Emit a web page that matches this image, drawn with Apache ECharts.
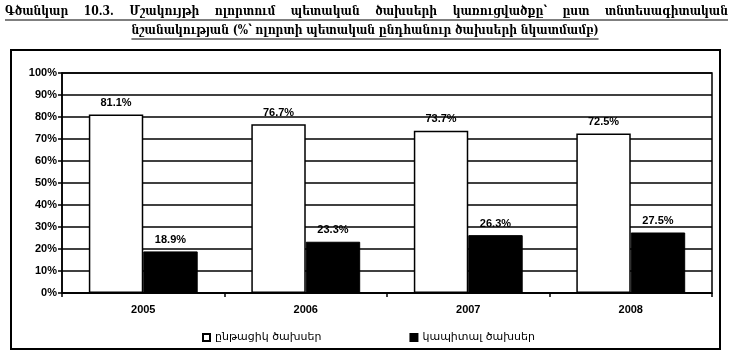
<!DOCTYPE html>
<html>
<head>
<meta charset="utf-8">
<script src="https://cdn.jsdelivr.net/npm/echarts@6/dist/echarts.min.js"></script>
<style>
html,body{margin:0;padding:0;background:#fff;}
#c{width:733px;height:361px;}
</style>
</head>
<body>
<div id="c"></div>
<script>
const categories = ['2005', '2006', '2007', '2008'];
const currentExp = [81.1, 76.7, 73.7, 72.5];
const capitalExp = [18.9, 23.3, 26.3, 27.5];
const seriesNames = ['ընթացիկ ծախսեր', 'կապիտալ ծախսեր'];
const titleLine1 = ['Գծանկար', '10.3.', 'Մշակույթի', 'ոլորտում', 'պետական', 'ծախսերի', 'կառուցվածքը՝', 'ըստ', 'տնտեսագիտական'];
const titleLine2 = 'նշանակության (%՝ ոլորտի պետական ընդհանուր ծախսերի նկատմամբ)';

const chart = echarts.init(document.getElementById('c'), null, {renderer: 'canvas'});

const titleFont = 'bold 12px "DejaVu Serif Condensed", "DejaVu Serif"';
const mctx = document.createElement('canvas').getContext('2d');
mctx.font = titleFont;
const graphics = [];
// line 1 justified between 5 and 728
const L = 5, R = 728;
const widths = titleLine1.map(w => mctx.measureText(w).width);
const total = widths.reduce((a, b) => a + b, 0);
const gap = (R - L - total) / (titleLine1.length - 1);
let x = L;
titleLine1.forEach((w, i) => {
  graphics.push({type: 'text', left: x, top: 6, style: {text: w, font: titleFont, fill: '#000'}});
  x += widths[i] + gap;
});
graphics.push({type: 'line', shape: {x1: L, y1: 20, x2: R, y2: 20}, style: {stroke: '#000', lineWidth: 1.2}});
const w2 = mctx.measureText(titleLine2).width;
const x2 = 365 - w2 / 2;
graphics.push({type: 'text', left: x2, top: 25, style: {text: titleLine2, font: titleFont, fill: '#000'}});
graphics.push({type: 'line', shape: {x1: x2, y1: 39, x2: x2 + w2, y2: 39}, style: {stroke: '#000', lineWidth: 1.2}});
// outer frame
graphics.push({type: 'rect', shape: {x: 11, y: 50, width: 709, height: 299}, style: {fill: 'none', stroke: '#000', lineWidth: 2}});

const labelStyle = {
  show: true, position: 'top', distance: 6,
  formatter: p => p.value.toFixed(1) + '%',
  fontFamily: 'Liberation Sans', fontWeight: 'bold', fontSize: 11, color: '#000'
};

chart.setOption({
  animation: false,
  backgroundColor: '#fff',
  graphic: graphics,
  grid: {left: 62, right: 21, top: 73, bottom: 68, show: true, borderColor: '#000', borderWidth: 1.5, backgroundColor: 'transparent'},
  legend: {
    left: 197, top: 327, itemWidth: 7, itemHeight: 7, itemGap: 88, icon: 'rect',
    textStyle: {fontFamily: 'DejaVu Sans', fontSize: 11, color: '#000'},
    data: seriesNames
  },
  xAxis: {
    type: 'category', data: categories,
    axisLine: {lineStyle: {color: '#000', width: 1.5}},
    axisTick: {show: true, length: 4, lineStyle: {color: '#000', width: 1.5}},
    axisLabel: {margin: 11, fontFamily: 'Liberation Sans', fontWeight: 'bold', fontSize: 11, color: '#000'}
  },
  yAxis: {
    type: 'value', min: 0, max: 100, interval: 10,
    axisLine: {show: true, lineStyle: {color: '#000', width: 1.5}},
    axisTick: {show: true, length: 4, lineStyle: {color: '#000', width: 1.5}},
    axisLabel: {formatter: '{value}%', margin: 5, fontFamily: 'Liberation Sans', fontWeight: 'bold', fontSize: 11, color: '#000'},
    splitLine: {show: true, lineStyle: {color: '#000', width: 1.5}}
  },
  series: [
    {name: seriesNames[0], type: 'bar', data: currentExp, barGap: '0%', barCategoryGap: '33%',
     itemStyle: {color: '#fff', borderColor: '#000', borderWidth: 1.5}, label: labelStyle},
    {name: seriesNames[1], type: 'bar', data: capitalExp,
     itemStyle: {color: '#000', borderColor: '#000', borderWidth: 1}, label: labelStyle}
  ]
});
</script>
</body>
</html>
